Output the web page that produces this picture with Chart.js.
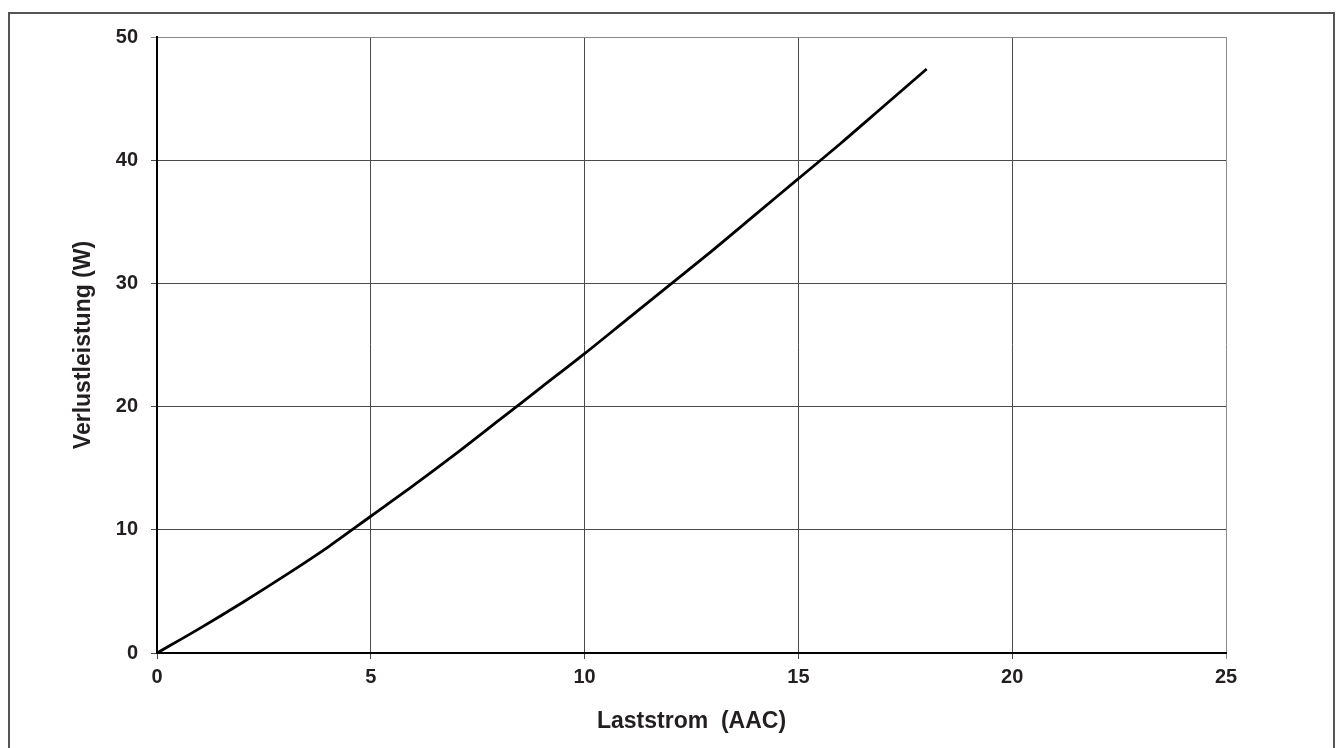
<!DOCTYPE html>
<html>
<head>
<meta charset="utf-8">
<script src="https://cdn.jsdelivr.net/npm/chart.js@4"></script>
<style>
  html, body { margin: 0; padding: 0; background: #fff; }
  #wrap { width: 1337px; height: 748px; position: relative; }
</style>
</head>
<body>
<div id="wrap"><canvas id="c" width="1337" height="748"></canvas></div>
<script>
// Data
const currentA = [0, 1, 2, 3, 4, 5, 6, 7, 8, 9, 10, 11, 12, 13, 14, 15, 16, 17, 18];
const lossW    = [0, 2.0, 4.1, 6.3, 8.6, 11.1, 13.6, 16.2, 18.9, 21.6, 24.3, 27.1, 29.9, 32.7, 35.6, 38.5, 41.4, 44.4, 47.4];
const xTicks = [0, 5, 10, 15, 20, 25];
const yTicks = [0, 10, 20, 30, 40, 50];
const xTitle = 'Laststrom  (AAC)';
const yTitle = 'Verlustleistung (W)';

const points = currentA.map((x, i) => ({ x: x, y: lossW[i] }));
const FONT = "'Liberation Sans', Arial, Helvetica, sans-serif";
const TXT = '#231f20';

const frame = {
  id: 'frame',
  afterDraw(chart) {
    const ctx = chart.ctx;
    ctx.save();
    ctx.strokeStyle = '#555';
    ctx.lineWidth = 2;
    ctx.beginPath();
    ctx.moveTo(9, 760);
    ctx.lineTo(9, 13);
    ctx.lineTo(1334, 13);
    ctx.lineTo(1334, 760);
    ctx.stroke();
    ctx.restore();
  }
};

function gridColor(ctx) {
  return (ctx.tick && ctx.index === 5) ? '#8a8a8a' : '#4a4a4a';
}

new Chart(document.getElementById('c'), {
  type: 'scatter',
  data: {
    datasets: [{
      data: points,
      showLine: true,
      borderColor: '#000',
      borderWidth: 2.8,
      pointRadius: 0,
      tension: 0.3,
      fill: false
    }]
  },
  plugins: [frame],
  options: {
    responsive: false,
    animation: false,
    devicePixelRatio: 1,
    layout: { padding: { left: 0, right: 111, top: 37, bottom: 0 } },
    plugins: { legend: { display: false }, tooltip: { enabled: false } },
    scales: {
      x: {
        type: 'linear',
        min: 0, max: 25,
        afterBuildTicks: (s) => { s.ticks = xTicks.map(v => ({ value: v })); },
        afterFit: (s) => { s.height = 95; },
        ticks: { color: TXT, font: { family: FONT, size: 20, weight: 'bold' }, padding: 6, maxRotation: 0 },
        grid: { color: gridColor, lineWidth: 1, tickLength: 6 },
        border: { color: '#000', width: 2 },
        title: { display: true, text: xTitle, color: TXT, font: { family: FONT, size: 23, weight: 'bold' }, padding: { top: 10, bottom: 13 } }
      },
      y: {
        type: 'linear',
        min: 0, max: 50,
        afterBuildTicks: (s) => { s.ticks = yTicks.map(v => ({ value: v })); },
        afterFit: (s) => { s.width = 157; },
        ticks: { color: TXT, font: { family: FONT, size: 20, weight: 'bold' }, padding: 13 },
        grid: { color: gridColor, lineWidth: 1, tickLength: 6 },
        border: { color: '#000', width: 2 },
        title: { display: true, text: yTitle, color: TXT, font: { family: FONT, size: 23, weight: 'bold' }, padding: { top: 70, bottom: 10 } }
      }
    }
  }
});
</script>
</body>
</html>
